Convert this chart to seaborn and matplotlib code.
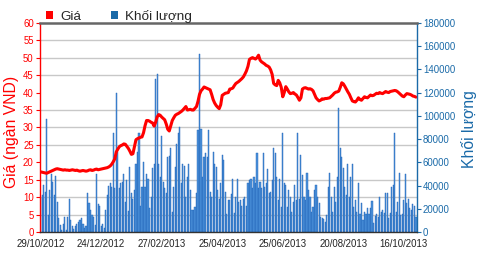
import numpy as np
import pandas as pd
import matplotlib
matplotlib.use("Agg")
import matplotlib.pyplot as plt
import seaborn as sns
from matplotlib.patches import Patch

# ---------------- data ----------------
date_labels = ["29/10/2012", "24/12/2012", "27/02/2013", "25/04/2013",
               "25/06/2013", "20/08/2013", "16/10/2013"]
date_ticks = [0, 40, 80, 120, 160, 200, 240]

price = [
    17.3, 17.2, 17.1, 17.0, 16.9, 17.1, 17.3, 17.5, 17.7, 17.9,
    18.1, 18.2, 18.1, 18.0, 17.9, 17.8, 17.9, 17.8, 17.8, 17.7,
    17.8, 17.9, 17.8, 17.7, 17.8, 17.6, 17.5, 17.6, 17.7, 17.6,
    17.5, 17.6, 17.8, 17.9, 17.7, 17.8, 18.0, 18.1, 17.9, 18.0,
    18.1, 18.2, 18.3, 18.4, 18.5, 18.7, 19.0, 19.5, 20.2, 21.0,
    23.0, 23.8, 24.5, 24.8, 25.0, 25.3, 25.2, 24.6, 24.0, 23.2,
    22.3, 22.5, 24.5, 26.5, 26.8, 27.0, 27.2, 27.3, 28.5, 30.5,
    32.0, 32.0, 31.8, 31.5, 31.3, 30.4, 31.5, 33.0, 33.7, 33.5,
    33.0, 32.6, 32.2, 31.0, 29.5, 29.0, 30.5, 32.0, 32.8, 33.5,
    33.8, 34.0, 34.3, 34.6, 35.0, 35.5, 36.0, 35.0, 35.1, 35.2,
    35.0, 35.0, 35.5, 36.0, 37.5, 39.5, 40.5, 41.0, 41.6, 41.4,
    41.2, 41.0, 40.8, 39.5, 38.0, 37.0, 36.3, 35.8, 35.4, 36.5,
    39.2, 39.5, 39.8, 39.9, 40.0, 41.0, 41.1, 41.3, 42.0, 42.6,
    42.9, 43.2, 43.6, 44.0, 44.5, 45.3, 46.2, 47.5, 49.5, 49.8,
    50.0, 49.8, 49.6, 50.0, 50.7, 49.3, 48.8, 48.5, 48.2, 47.8,
    47.6, 47.3, 46.5, 45.2, 42.6, 42.2, 42.0, 43.5, 42.8, 41.5,
    38.8, 40.0, 41.7, 41.0, 40.2, 39.7, 39.8, 40.0, 39.6, 39.3,
    38.6, 37.8, 38.5, 41.0, 41.3, 41.4, 41.2, 41.0, 41.1, 40.9,
    40.5, 39.5, 38.5, 38.0, 37.6, 37.8, 38.2, 38.1, 38.3, 38.3,
    38.4, 38.5, 38.9, 39.3, 39.8, 40.1, 40.2, 40.4, 41.5, 42.8,
    42.5, 41.8, 41.0, 40.2, 39.5, 38.5, 37.6, 37.4, 37.3, 37.8,
    38.5, 38.0, 37.8, 38.3, 38.8, 38.6, 38.5, 38.9, 39.3, 39.1,
    39.2, 39.5, 39.8, 39.7, 40.0, 39.8, 39.7, 40.0, 40.3, 40.1,
    40.0, 40.3, 40.4, 40.5, 40.6, 40.5, 40.2, 39.8, 39.4, 39.0,
    38.8, 39.3, 39.7, 39.6, 39.5, 39.3, 39.0, 38.9, 38.7,
]

volume_k = [
    29.7, 32, 41, 35, 97.7, 15, 36, 50, 43, 32,
    48, 26, 12, 6, 2, 7.5, 13, 2, 12.8, 29,
    10.5, 5, 3, 5, 7, 9, 10.5, 12, 7, 3.4,
    5, 34, 24.8, 19, 15, 13, 6, 50, 24, 22.5,
    5, 7, 4, 19, 32, 40, 42, 38.5, 85, 37.7,
    119.7, 69, 37.7, 42, 43.4, 50, 26, 45, 18.5, 56,
    34, 28.5, 36, 59, 69, 85, 23, 39, 60.5, 39,
    50, 46, 20.5, 30, 55, 59, 132, 136, 59, 47.7,
    83, 43, 37.7, 34, 65, 65.4, 72, 17.7, 39, 56,
    76, 85, 90.5, 42, 58.5, 57, 30.5, 47.7, 58.5, 36,
    19, 19, 22, 33.4, 87.7, 153, 89, 47.7, 65, 67.7,
    65, 87.7, 35, 30.5, 69, 59, 56, 36, 29, 42,
    66, 62, 35, 16, 27.7, 27.7, 33, 46, 16.8, 30.5,
    46, 26, 27.7, 23, 29, 30.5, 23, 42, 44.8, 45.4,
    37.7, 47.7, 42, 68, 37.7, 43.4, 37.7, 68, 39, 42,
    54, 33.4, 34.8, 44.8, 72.8, 68, 47.7, 27.7, 46, 22,
    85, 42.5, 40.5, 22, 36, 30, 17.7, 26, 40.5, 27.7,
    85, 29, 66, 49, 30.5, 27.7, 50.5, 36, 30.5, 17.7,
    22, 36, 40.5, 30.5, 24.8, 13.4, 12, 11, 9, 14.8,
    39, 50.5, 30.5, 17.7, 39, 26, 47.7, 107, 72, 65,
    55, 39, 32, 59, 30.5, 47.7, 59, 22, 27.7, 17.7,
    42, 16, 25.4, 10.5, 17.7, 16, 20.5, 16, 20.5, 27,
    7.7, 14, 16, 13.4, 30.5, 17.7, 19, 16.8, 34, 34,
    12, 16.8, 39, 40.5, 85.4, 17.7, 26, 50.5, 14.8, 16,
    27.7, 50, 25.4, 29, 20.5, 19, 24, 23, 13.4,
]

n = min(len(price), len(volume_k))
df = pd.DataFrame({
    "session": np.arange(n),
    "price": price[:n],
    "volume": np.array(volume_k[:n]) * 1000,
})

RED = "#ff0000"
BLUE = "#1a6aa8"

sns.set_style("white")
plt.rcParams["font.family"] = ["Liberation Sans", "DejaVu Sans"]

fig = plt.figure(figsize=(4.8, 2.6), dpi=100)
ax = fig.add_axes([40 / 480, 1 - 232.3 / 260, (416.7 - 40) / 480, (232.3 - 22.7) / 260])

# volume bars (right axis)
sns.barplot(data=df, x="session", y="volume", ax=ax, native_scale=True,
            color="#4d94db", edgecolor="#1d5fb5", linewidth=0.3,
            width=0.75, saturation=1)
ax.set_ylim(0, 180000)
ax.set_xlim(-0.4, n - 0.5)

# price line (left axis) on a twin axes drawn on top
ax2 = ax.twinx()
sns.lineplot(data=df, x="session", y="price", ax=ax2, color=RED,
             linewidth=2.2)
ax2.set_ylim(0, 60)

# --- volume axis on the right ---
ax.yaxis.tick_right()
ax.yaxis.set_label_position("right")
ax.set_yticks(np.arange(0, 180001, 15000), minor=True)
ax.grid(True, which="minor", axis="y", color="#c8c8c8", linewidth=1.0)
ax.grid(False, which="major")
ax.set_axisbelow(True)
ax.tick_params(which="minor", length=0)
ax.set_yticks(np.arange(0, 180001, 20000))
ax.set_yticklabels([str(v) for v in range(0, 180001, 20000)])
ax.tick_params(axis="y", which="major", colors=BLUE, labelsize=6.9,
               length=3, width=0.8, pad=1.5, left=False, labelleft=False,
               right=True, labelright=True)
ax.set_ylabel("Khối lượng", color=BLUE, fontsize=11.3)
ax.yaxis.set_label_coords(1.117, 0.493)

ax.set_xticks(date_ticks)
ax.set_xticklabels(date_labels)
ax.tick_params(axis="x", labelsize=6.9, colors="#222222", length=3,
               width=0.8, pad=1.5)
ax.set_xlabel("")
for s in ax.spines.values():
    s.set_visible(False)

# --- price axis on the left ---
ax2.yaxis.tick_left()
ax2.yaxis.set_label_position("left")
ax2.set_yticks(range(0, 61, 5))
ax2.tick_params(axis="y", colors=RED, labelsize=6.9, length=3, width=0.8,
                pad=1.5, left=True, labelleft=True, right=False,
                labelright=False)
ax2.set_ylabel("Giá (ngàn VND)", color=RED, fontsize=11.3)
ax2.yaxis.set_label_coords(-0.056, 0.478)
ax2.set_xlabel("")
ax2.grid(False)
ax2.spines["left"].set_color(RED)
ax2.spines["left"].set_linewidth(1.0)
ax2.spines["right"].set_color(BLUE)
ax2.spines["right"].set_linewidth(1.0)
ax2.spines["top"].set_color("#666666")
ax2.spines["top"].set_linewidth(1.8)
ax2.spines["bottom"].set_color("#333333")
ax2.spines["bottom"].set_linewidth(1.0)

handles = [Patch(facecolor=RED, edgecolor="none", linewidth=0,
                 joinstyle="miter"),
           Patch(facecolor=BLUE, edgecolor="none", linewidth=0,
                 joinstyle="miter")]
fig.legend(handles, ["Giá", "Khối lượng"], loc="lower left",
           bbox_to_anchor=(0.096, 0.913), ncol=2, frameon=False,
           fontsize=9.7, handlelength=0.55, handleheight=0.55,
           handletextpad=0.5, columnspacing=2.2, borderpad=0,
           borderaxespad=0)

fig.savefig("out.png", dpi=100)
